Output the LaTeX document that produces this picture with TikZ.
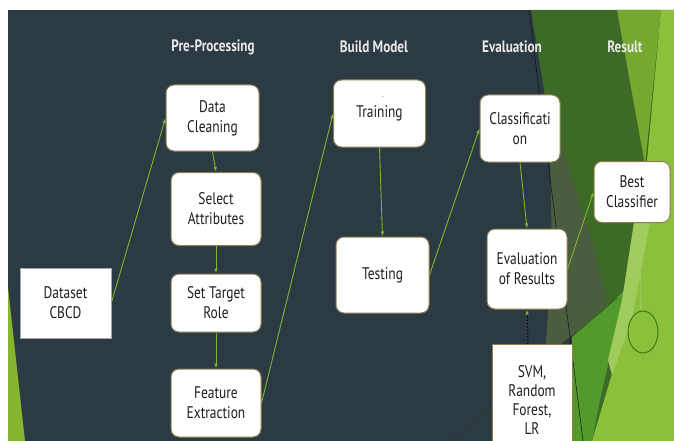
\documentclass[tikz,border=0pt]{standalone}
\usepackage{fontspec}
\setmainfont{PT Sans}[FakeStretch=0.8]
\usetikzlibrary{arrows.meta}
\definecolor{slate}{HTML}{2C3B43}
\definecolor{dkgreen}{HTML}{3D6A27}
\definecolor{greyg}{HTML}{4B5D3F}
\definecolor{midg}{HTML}{76A82F}
\definecolor{lime}{HTML}{8DC03A}
\definecolor{lightg}{HTML}{A0CC5E}
\definecolor{midg2}{HTML}{529A2C}
\definecolor{leftg}{HTML}{86B52F}
\definecolor{boxbd}{HTML}{8C7E52}
\definecolor{boxtxt}{HTML}{1E1E1E}
\definecolor{conncol}{HTML}{7DB62D}
\definecolor{hdrcol}{HTML}{E8E8E8}
\tikzset{
  box/.style={draw=boxbd, line width=1pt, fill=white, rounded corners=8pt, inner sep=0pt,
    align=center, text=boxtxt, font=\fontsize{16.8}{20}\selectfont},
  sqbox/.style={box, rounded corners=0pt},
  hdr/.style={text=hdrcol, font=\bfseries\fontsize{16.5}{18}\selectfont, inner sep=0pt},
  conn/.style={draw=conncol, line width=0.9pt, -{Latex[length=5pt,width=3.5pt]}},
}
\begin{document}
\begin{tikzpicture}[x=1pt,y=-1pt]
\useasboundingbox (0,0) rectangle (674,441);
\begin{scope}
\clip (0,0) rectangle (674,441);
\fill[white] (0,0) rectangle (674,441);
\fill[slate] (8,10) rectangle (674,441);
% facets
\fill[dkgreen] (531,10) -- (674,10) -- (674,441) -- (585,441) -- (570,250) -- cycle;
\fill[greyg] (549,105) -- (592,240) -- (607,305) -- (545,358) -- (552,250) -- cycle;
\fill[midg] (617,10) -- (661,10) -- (645,165) -- cycle;
\fill[lime] (661,10) -- (674,10) -- (674,441) -- (592,441) -- (625,330) -- (638,250) -- (648,150) -- cycle;
\fill[midg2] (572,336) -- (607,306) -- (625,290) -- (600,400) -- (592,441) -- (572,441) -- cycle;
\fill[lightg] (634,222) -- (650,222) -- (632,320) -- (612,375) -- (608,360) -- (622,300) -- cycle;
\draw[black!70!slate, line width=0.5pt] (529,10) -- (583,441);
\draw[black!40!greyg, line width=0.5pt] (450,441) -- (617,298);
\fill[leftg] (8,287) -- (25,441) -- (8,441) -- cycle;
\draw[fill=lime, draw=green!30!black!60!lime, line width=1pt] (643,332) ellipse (15 and 21);
% headers
\node[hdr] (h1) at (213,47) {Pre-Processing};
\node[hdr] (h2) at (374,47) {Build Model};
\node[hdr] (h3) at (512,47) {Evaluation};
\node[hdr] (h4) at (625,47) {Result};
% nodes
\node[sqbox, draw=gray!70, line width=0.6pt, minimum width=91pt, minimum height=70pt] (ds) at (65.5,303) {Dataset\\CBCD};
\node[box, minimum width=93pt, minimum height=66pt] (dc) at (212.5,118) {Data\\Cleaning};
\node[box, minimum width=90pt, minimum height=73pt] (sa) at (216,209) {Select\\Attributes};
\node[box, minimum width=90pt, minimum height=58pt] (st) at (216,303) {Set Target\\Role};
\node[box, minimum width=90pt, minimum height=68pt] (fe) at (216,403) {Feature\\Extraction};
\node[box, minimum width=92pt, minimum height=67pt] (tr) at (379.5,113.5) {Training};
\node[text=boxtxt, font=\fontsize{8}{8}\selectfont, inner sep=0pt] (trdot) at (383,97) {.};
\node[box, minimum width=93pt, minimum height=76pt] (te) at (382.5,275) {Testing};
\node[box, minimum width=80pt, minimum height=67pt] (cl) at (520,128.5) {Classificati\\on};
\node[box, minimum width=80pt, minimum height=80pt] (ev) at (527,269) {Evaluation\\of Results};
\node[sqbox, minimum width=80pt, minimum height=112pt, font=\fontsize{16.8}{19.3}\selectfont] (svm) at (532,400) {SVM,\\Random\\Forest,\\LR};
\node[box, minimum width=76pt, minimum height=61pt] (bc) at (632,192) {Best\\Classifier};
\coordinate (circtop) at (641,310);
% connectors
\draw[conn] (ds.east) -- (dc.west);
\draw[conn] (dc.south) -- (sa.north);
\draw[conn] (sa.south) -- (st.north);
\draw[conn] (st.south) -- (fe.north);
\draw[conn] (fe.east) -- (tr.west);
\draw[conn] (tr.south) -- (te.north);
\draw[conn] (te.east) -- (cl.west);
\draw[conn] (cl.south) -- (ev.north);
\draw[conn] (ev.east) -- (bc.west);
\draw[black, line width=1.2pt, dotted, -{Latex[length=5pt,width=3.5pt,color=conncol]}] ([xshift=-4pt]svm.north) -- (ev.south);
\draw[draw=lightg, line width=0.8pt, -{Latex[length=5pt,width=3.5pt]}] ([xshift=8pt]bc.south) -- (circtop);
\end{scope}
\end{tikzpicture}
\end{document}
